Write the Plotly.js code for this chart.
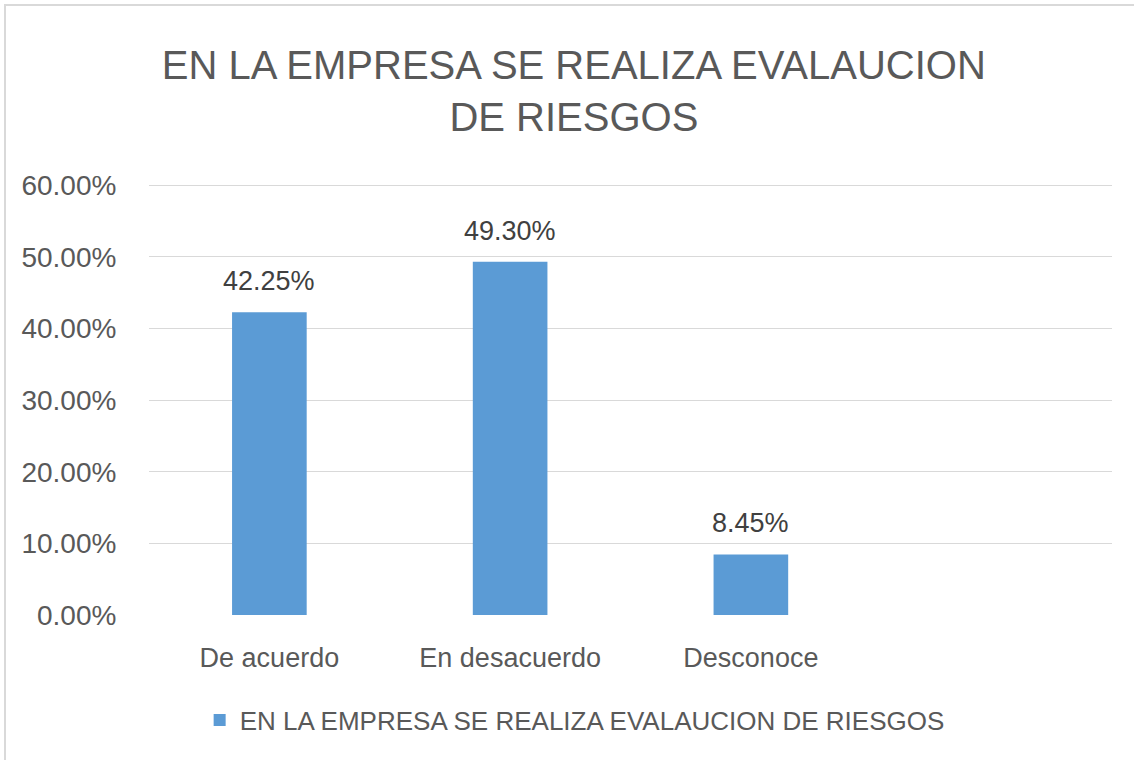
<!DOCTYPE html>
<html>
<head>
<meta charset="utf-8">
<script src="https://cdn.plot.ly/plotly-3.0.1.min.js"></script>
<style>
  html, body { margin: 0; padding: 0; background: #fff; width: 1134px; height: 760px; overflow: hidden; }
  #frame { position: absolute; left: 4px; top: 4px; width: 1130px; height: 756px;
           border-left: 2px solid #d9d9d9; border-top: 2px solid #d9d9d9; }
  #chart { position: absolute; left: 1px; top: 1px; width: 1127px; height: 753px; }
</style>
</head>
<body>
<div id="frame"><div id="chart"></div></div>
<script>
const categories = ["De acuerdo", "En desacuerdo", "Desconoce"];
const values = [0.4225, 0.4930, 0.0845];
const valueLabels = ["42.25%", "49.30%", "8.45%"];
const seriesName = "EN LA EMPRESA SE REALIZA EVALAUCION DE RIESGOS";
const chartTitle = "EN LA EMPRESA SE REALIZA EVALAUCION<br>DE RIESGOS";
const yTicks = [0, 0.1, 0.2, 0.3, 0.4, 0.5, 0.6];
const yTickLabels = ["0.00%", "10.00%", "20.00%", "30.00%", "40.00%", "50.00%", "60.00%"];

const FONT = '"Liberation Sans", Arial, sans-serif';
const TEXT = '#595959';

const trace = {
  type: 'bar',
  x: categories,
  y: values,
  name: seriesName,
  width: 0.31,
  marker: { color: '#5B9BD5' },
  hoverinfo: 'x+y',
  showlegend: true
};

const annotations = categories.map((c, i) => ({
  x: c, y: values[i], xref: 'x', yref: 'y',
  text: valueLabels[i], showarrow: false,
  yanchor: 'bottom', yshift: 14,
  font: { family: FONT, size: 27, color: '#404040' }
}));

const layout = {
  width: 1127, height: 753,
  margin: { l: 142, r: 22, t: 177, b: 145, pad: 0 },
  paper_bgcolor: '#fff', plot_bgcolor: '#fff',
  font: { family: FONT, color: TEXT },
  title: {
    text: chartTitle,
    font: { family: FONT, size: 40, color: TEXT },
    x: 0.503, xanchor: 'center', xref: 'container',
    y: 0.905, yanchor: 'middle', yref: 'container'
  },
  xaxis: {
    type: 'category',
    categoryorder: 'array', categoryarray: categories,
    range: [-0.5, 3.5],
    showgrid: false, zeroline: false,
    showline: false,
    ticks: 'outside', ticklen: 19, tickcolor: 'rgba(0,0,0,0)',
    tickfont: { family: FONT, size: 27, color: TEXT },
    fixedrange: true
  },
  yaxis: {
    range: [0, 0.6015],
    tickvals: yTicks, ticktext: yTickLabels,
    showgrid: true, gridcolor: '#d9d9d9', gridwidth: 1,
    zeroline: false, showline: false,
    ticks: 'outside', ticklen: 26, tickcolor: 'rgba(0,0,0,0)',
    tickfont: { family: FONT, size: 28, color: TEXT },
    fixedrange: true
  },
  showlegend: true,
  legend: {
    orientation: 'h',
    x: 0.442, xanchor: 'center',
    y: -0.244, yanchor: 'middle',
    font: { family: FONT, size: 26, color: TEXT },
    itemwidth: 30
  },
  annotations: annotations,
  bargap: 0.69
};

Plotly.newPlot('chart', [trace], layout, { displayModeBar: false, staticPlot: true });
</script>
</body>
</html>
